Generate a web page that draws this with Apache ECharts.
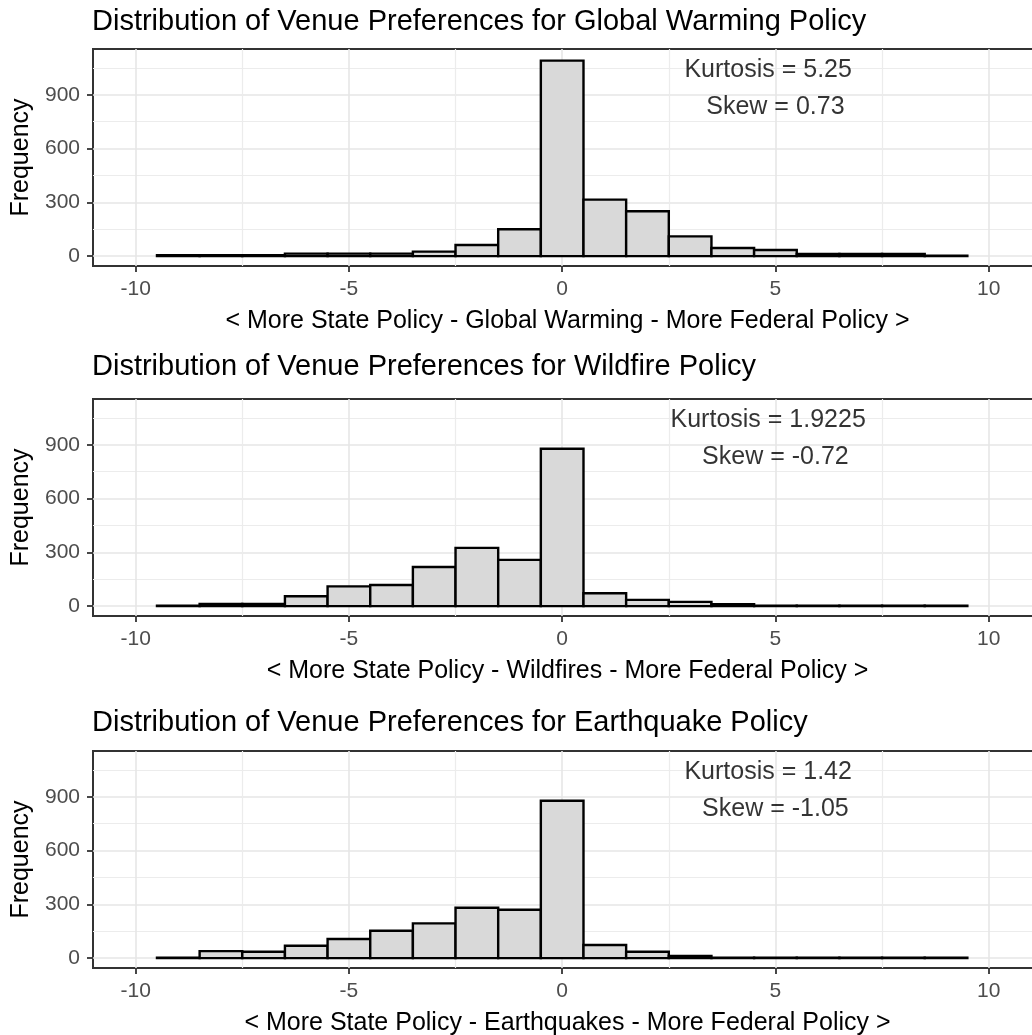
<!DOCTYPE html>
<html>
<head>
<meta charset="utf-8">
<title>Venue Preferences</title>
<script src="https://cdn.jsdelivr.net/npm/echarts@6/dist/echarts.min.js"></script>
<style>
  html, body { margin: 0; padding: 0; background: #fff; }
  #chart { width: 1032px; height: 1035px; }
</style>
</head>
<body>
<div id="chart"></div>
<script>
// histogram bins (centres, width 1)
const bins = [-9, -8, -7, -6, -5, -4, -3, -2, -1, 0, 1, 2, 3, 4, 5, 6, 7, 8, 9];
const warming = [5, 5, 5, 14, 14, 14, 25, 62, 150, 1090, 315, 250, 110, 45, 34, 12, 12, 12, 2];
const wildfire = [3, 12, 12, 55, 110, 118, 218, 325, 258, 878, 72, 35, 24, 11, 2, 2, 2, 2, 2];
const earthquake = [3, 39, 36, 69, 107, 153, 194, 281, 270, 878, 73, 36, 12, 2, 2, 2, 2, 2, 2];

const titles = [
  'Distribution of Venue Preferences for Global Warming Policy',
  'Distribution of Venue Preferences for Wildfire Policy',
  'Distribution of Venue Preferences for Earthquake Policy',
];
const xTitles = [
  '< More State Policy - Global Warming - More Federal Policy >',
  '< More State Policy - Wildfires - More Federal Policy >',
  '< More State Policy - Earthquakes - More Federal Policy >',
];
const kurtosis = [5.25, 1.9225, 1.42];
const skew = [0.73, -0.72, -1.05];

const yTicks = [0, 300, 600, 900];
const yMinor = [150, 450, 750, 1050];
const xTicks = [-10, -5, 0, 5, 10];
const xMinor = [-7.5, -2.5, 2.5, 7.5];

const FONT = "'Liberation Sans', Arial, sans-serif";
const panelData = [warming, wildfire, earthquake];
const gridTops = [49, 399, 751];
const titleTops = [7, 352, 708];

function renderBar(params, api) {
  const x = api.value(0);
  const v = api.value(1);
  const p0 = api.coord([x - 0.5, v]);
  const p1 = api.coord([x + 0.5, 0]);
  return {
    type: 'rect',
    shape: { x: p0[0], y: p0[1], width: p1[0] - p0[0], height: p1[1] - p0[1] },
    style: { fill: '#d9d9d9', stroke: '#000', lineWidth: 2.4 },
  };
}

const title = [];
const grid = [];
const xAxis = [];
const yAxis = [];
const series = [];

panelData.forEach((counts, i) => {
  title.push({
    text: titles[i],
    left: 92,
    top: titleTops[i],
    padding: 0,
    textStyle: { fontFamily: FONT, fontSize: 29, fontWeight: 'normal', color: '#000' },
  });
  grid.push({
    left: 93,
    top: gridTops[i],
    width: 949,
    height: 217,
    show: true,
    borderColor: '#333',
    borderWidth: 2,
    backgroundColor: '#fff',
    outerBoundsMode: 'none',
  });
  xAxis.push({
    type: 'value',
    gridIndex: i,
    min: -11,
    max: 11.25,
    name: xTitles[i],
    nameLocation: 'middle',
    nameGap: 43,
    nameTextStyle: { fontFamily: FONT, fontSize: 25, color: '#000' },
    axisLine: { show: false, onZero: false },
    axisTick: { show: true, length: 6, customValues: xTicks, lineStyle: { color: '#333', width: 1.8 } },
    axisLabel: { customValues: xTicks, fontFamily: FONT, fontSize: 21, color: '#4d4d4d', margin: 13 },
    splitLine: { show: true, lineStyle: { color: '#e6e6e6', width: 1.6 } },
  });
  yAxis.push({
    type: 'value',
    gridIndex: i,
    min: -55,
    max: 1155,
    name: 'Frequency',
    nameLocation: 'middle',
    nameGap: 56,
    nameTextStyle: { fontFamily: FONT, fontSize: 25, color: '#000' },
    axisLine: { show: false, onZero: false },
    axisTick: { show: true, length: 6, customValues: yTicks, lineStyle: { color: '#333', width: 1.8 } },
    axisLabel: { customValues: yTicks, fontFamily: FONT, fontSize: 21, color: '#4d4d4d', margin: 13 },
    splitLine: { show: true, lineStyle: { color: '#e6e6e6', width: 1.6 } },
  });
  series.push({
    type: 'custom',
    name: titles[i],
    xAxisIndex: i,
    yAxisIndex: i,
    renderItem: renderBar,
    encode: { x: 0, y: 1 },
    data: bins.map((b, k) => [b, counts[k]]),
    z: 3,
  });
  series.push({
    type: 'scatter',
    xAxisIndex: i,
    yAxisIndex: i,
    symbolSize: 1,
    itemStyle: { color: 'transparent' },
    label: {
      show: true,
      position: 'inside',
      formatter: p => p.data[2],
      fontFamily: FONT,
      fontSize: 25,
      color: '#000',
      textBorderWidth: 0,
    },
    data: [
      [4.83, 1040, `Kurtosis = ${kurtosis[i]}`],
      [5.0, 833, `Skew = ${skew[i]}`],
    ],
    z: 4,
  });
});

// minor grid lines on extra, hidden axes
panelData.forEach((counts, i) => {
  xAxis.push({
    type: 'value',
    gridIndex: i,
    min: -11,
    max: 11.25,
    axisLine: { show: false },
    axisLabel: { show: false },
    axisTick: { show: false, customValues: xMinor },
    splitLine: { show: true, lineStyle: { color: '#ececec', width: 1.2 } },
  });
  yAxis.push({
    type: 'value',
    gridIndex: i,
    min: -55,
    max: 1155,
    axisLine: { show: false },
    axisLabel: { show: false },
    axisTick: { show: false, customValues: yMinor },
    splitLine: { show: true, lineStyle: { color: '#ececec', width: 1.2 } },
  });
});

const myChart = echarts.init(document.getElementById('chart'));
myChart.setOption({
  animation: false,
  backgroundColor: '#fff',
  title,
  grid,
  xAxis,
  yAxis,
  series,
});
</script>
</body>
</html>
